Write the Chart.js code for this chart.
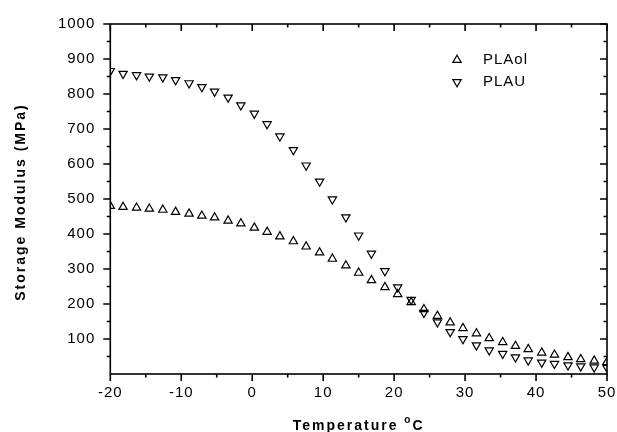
<!DOCTYPE html>
<html>
<head>
<meta charset="utf-8">
<script src="https://cdn.jsdelivr.net/npm/chart.js@4"></script>
<style>
  html, body { margin: 0; padding: 0; background: #fff; }
  #wrap { width: 617px; height: 432px; }
</style>
</head>
<body>
<div id="wrap"><canvas id="chart"></canvas></div>
<script>
// temperature readings (deg C), shared by both samples
var temperature = [-20.0, -18.2, -16.3, -14.5, -12.6, -10.8, -8.9, -7.1, -5.3, -3.4,
    -1.6, 0.3, 2.1, 3.9, 5.8, 7.6, 9.5, 11.3, 13.2, 15.0,
    16.8, 18.7, 20.5, 22.4, 24.2, 26.1, 27.9, 29.7, 31.6, 33.4,
    35.3, 37.1, 38.9, 40.8, 42.6, 44.5, 46.3, 48.2, 50.0];

// storage modulus (MPa)
var plaOl = [480, 477, 475, 472, 469, 463, 458, 452, 447, 438,
    430, 418, 406, 393, 379, 364, 347, 329, 310, 289,
    268, 248, 228, 205, 185, 166, 147, 131, 116, 102,
    91, 80, 71, 61, 55, 48, 42, 38, 34];
var plaU = [866, 858, 854, 850, 848, 840, 831, 820, 807, 790,
    768, 744, 714, 679, 640, 596, 550, 499, 448, 396,
    344, 294, 248, 212, 175, 148, 120, 100, 82, 68,
    58, 48, 39, 33, 29, 25, 22, 19, 18];

var seriesNames = ["PLAol", "PLAU"];
var xTickValues = [-20, -10, 0, 10, 20, 30, 40, 50];
var yTickValues = [100, 200, 300, 400, 500, 600, 700, 800, 900, 1000];

var TICK_FONT = "Liberation Sans, Arial, sans-serif";

/* pair up x and y values for the scatter plot */
var toPoints = function (xs, ys) {
    return xs.map(function (x, i) { return {x: x, y: ys[i]}; });
};

/* frame round the plot with major and minor ticks, like the original */
var framePlugin = {
    id: "frame",
    beforeDraw: function (chart) {
        chart.ctx.letterSpacing = "1px";
    },
    afterDraw: function (chart) {
        var ctx = chart.ctx;
        var a = chart.chartArea;
        var xs = chart.scales.x, ys = chart.scales.y;
        ctx.save();
        ctx.letterSpacing = "0px";
        ctx.strokeStyle = "#000";
        ctx.lineWidth = 1.6;
        ctx.strokeRect(a.left, a.top, a.right - a.left, a.bottom - a.top);
        ctx.beginPath();
        for (var v = -20; v <= 50; v += 5) {
            var px = xs.getPixelForValue(v);
            var len = v % 10 === 0 ? 7 : 3.5;
            ctx.moveTo(px, a.bottom); ctx.lineTo(px, a.bottom + len);
            ctx.moveTo(px, a.top); ctx.lineTo(px, a.top + len);
        }
        for (var w = 50; w <= 1000; w += 50) {
            var py = ys.getPixelForValue(w);
            var l2 = w % 100 === 0 ? 7 : 3.5;
            ctx.moveTo(a.left, py); ctx.lineTo(a.left - l2, py);
            ctx.moveTo(a.right, py); ctx.lineTo(a.right - l2, py);
        }
        ctx.stroke();

        // axis titles
        ctx.fillStyle = "#000";
        ctx.font = "bold 14px " + TICK_FONT;
        ctx.letterSpacing = "2px";
        ctx.textBaseline = "alphabetic";
        ctx.textAlign = "left";
        var main = "Temperature ";
        var wMain = ctx.measureText(main).width;
        ctx.font = "bold 10px " + TICK_FONT;
        var wO = ctx.measureText("o").width;
        ctx.font = "bold 14px " + TICK_FONT;
        var wC = ctx.measureText("C").width;
        var startX = (a.left + a.right) / 2 - (wMain + wO + wC) / 2;
        ctx.fillText(main, startX, 430);
        ctx.font = "bold 10px " + TICK_FONT;
        ctx.fillText("o", startX + wMain, 423);
        ctx.font = "bold 14px " + TICK_FONT;
        ctx.fillText("C", startX + wMain + wO, 430);

        ctx.save();
        ctx.translate(25, (a.top + a.bottom) / 2 + 3);
        ctx.rotate(-Math.PI / 2);
        ctx.textAlign = "center";
        ctx.fillText("Storage Modulus (MPa)", 0, 0);
        ctx.restore();

        // legend inside the plot
        ctx.letterSpacing = "1px";
        ctx.font = "15px " + TICK_FONT;
        ctx.textBaseline = "middle";
        ctx.textAlign = "left";
        chart.data.datasets.forEach(function (ds, i) {
            var ly = 60 + i * 22;
            ctx.strokeStyle = "#000";
            ctx.fillStyle = "rgba(0,0,0,0)";
            ctx.lineWidth = 1.2;
            Chart.helpers.drawPoint(ctx, {
                pointStyle: ds.pointStyle,
                rotation: ds.rotation,
                radius: ds.pointRadius,
                borderWidth: 1.2
            }, 457, ly);
            ctx.fillStyle = "#000";
            ctx.fillText(ds.label, 483, ly);
        });
        ctx.restore();
        ctx.letterSpacing = "0px";
    }
};

var markerStyle = {
    showLine: false,
    pointStyle: "triangle",
    pointRadius: 4.8,
    pointHoverRadius: 4.8,
    pointBorderWidth: 1.2,
    pointBorderColor: "#000",
    pointBackgroundColor: "rgba(0,0,0,0)",
    clip: 0
};

var plainLabel = function (value) { return String(value); };

var plot = new Chart(document.getElementById("chart"), {
    type: "scatter",
    data: {
        datasets: [
            Object.assign({label: seriesNames[0], data: toPoints(temperature, plaOl), rotation: 0}, markerStyle),
            Object.assign({label: seriesNames[1], data: toPoints(temperature, plaU), rotation: 180}, markerStyle)
        ]
    },
    options: {
        responsive: true,
        maintainAspectRatio: false,
        animation: false,
        layout: {padding: {left: 0, right: 10, top: 23, bottom: 0}},
        plugins: {
            legend: {display: false},
            tooltip: {enabled: false}
        },
        scales: {
            x: {
                type: "linear",
                min: -20,
                max: 50,
                grid: {display: false, drawTicks: false},
                border: {display: false},
                afterBuildTicks: function (s) {
                    s.ticks = xTickValues.map(function (v) { return {value: v}; });
                },
                afterFit: function (s) {
                    s.height = 58;
                    s.paddingLeft = 0;
                    s.paddingRight = 0;
                },
                ticks: {
                    color: "#000",
                    padding: 10,
                    maxRotation: 0,
                    callback: plainLabel,
                    font: {family: TICK_FONT, size: 15}
                }
            },
            y: {
                type: "linear",
                min: 0,
                max: 1000,
                grid: {display: false, drawTicks: false},
                border: {display: false},
                afterBuildTicks: function (s) {
                    s.ticks = yTickValues.map(function (v) { return {value: v}; });
                },
                afterFit: function (s) { s.width = 110.3; },
                ticks: {
                    color: "#000",
                    padding: 15,
                    callback: plainLabel,
                    font: {family: TICK_FONT, size: 15}
                }
            }
        }
    },
    plugins: [framePlugin]
});
</script>
</body>
</html>
